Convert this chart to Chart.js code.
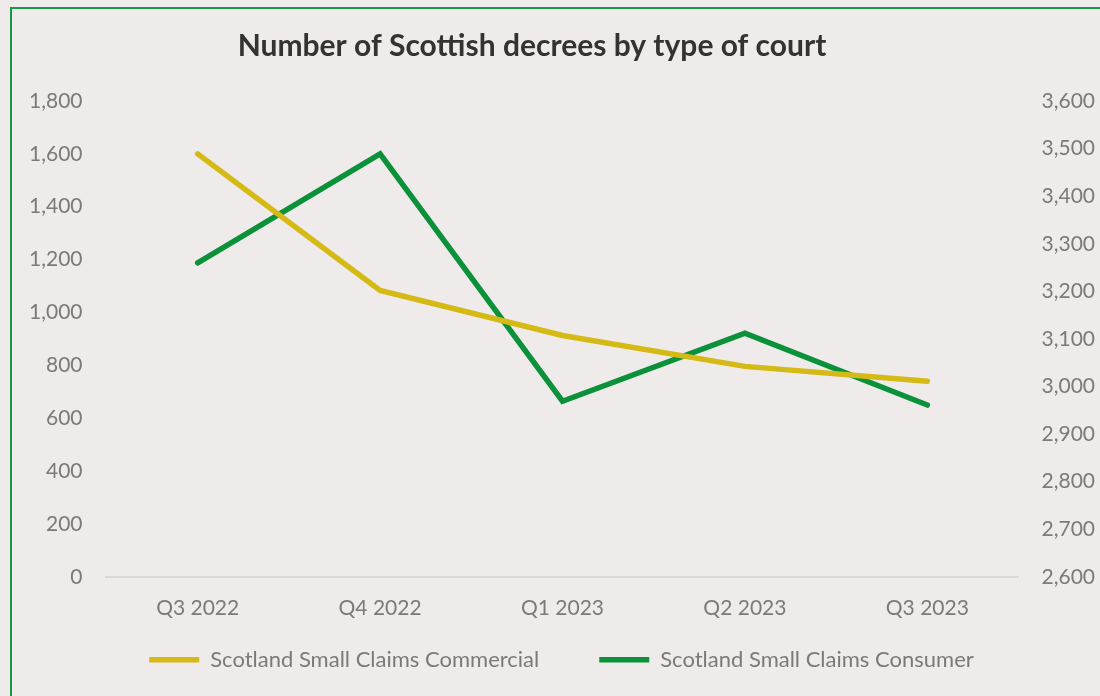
<!DOCTYPE html>
<html>
<head>
<meta charset="utf-8">
<script src="https://cdn.jsdelivr.net/npm/chart.js@4.4.0/dist/chart.umd.min.js"></script>
<style>
  html, body { margin: 0; padding: 0; background: #efebea; overflow: hidden; }
  #frame { position: absolute; left: 10px; top: 7px; width: 1200px; height: 800px; border: 2px solid #139a43; }
  #wrap { position: absolute; left: 0; top: 0; width: 1100px; height: 696px; }
</style>
</head>
<body>
<div id="frame"></div>
<div id="wrap"><canvas id="decreeChart" width="1100" height="696"></canvas></div>
<script>
const quarters = ["Q3 2022", "Q4 2022", "Q1 2023", "Q2 2023", "Q3 2023"];
const commercial = [1600, 1083, 913, 796, 740];
const consumer = [3260, 3489, 2969, 3112, 2961];
const leftTicks = [0, 200, 400, 600, 800, 1000, 1200, 1400, 1600, 1800];
const rightTicks = [2600, 2700, 2800, 2900, 3000, 3100, 3200, 3300, 3400, 3500, 3600];

const fontFamily = "Lato, 'Open Sans', sans-serif";
const grey = "#7a7a7a";

/* draws the title centred where the original sits */
const titlePlugin = {
    id: "titleText",
    afterDraw(chart) {
        let ctx = chart.ctx;
        ctx.save();
        ctx.font = "bold 30px " + fontFamily;
        ctx.fillStyle = "#333333";
        ctx.textAlign = "center";
        ctx.textBaseline = "middle";
        ctx.fillText("Number of Scottish decrees by type of court", 532, 46);
        ctx.restore();
    }
};

/* legend padding is wide (item gap), so pull the legend box up under the axis */
const legendNudge = {
    id: "legendNudge",
    afterLayout(chart) {
        let legend = chart.legend;
        let h = legend.bottom - legend.top;
        legend.top = chart.chartArea.bottom + 12;
        legend.bottom = legend.top + h;
    }
};

let ctx = document.getElementById("decreeChart").getContext("2d");
let chart = new Chart(ctx, {
    type: "line",
    data: {
        labels: quarters,
        datasets: [{
            label: "Scotland Small Claims Commercial",
            data: commercial,
            borderColor: "#d5b915",
            backgroundColor: "#d5b915",
            borderWidth: 5.5,
            pointRadius: 0,
            pointStyle: "line",
            borderCapStyle: "round",
            yAxisID: "y"
        }, {
            label: "Scotland Small Claims Consumer",
            data: consumer,
            borderColor: "#0b913a",
            backgroundColor: "#0b913a",
            borderWidth: 5.5,
            pointRadius: 0,
            pointStyle: "line",
            borderCapStyle: "round",
            yAxisID: "y1"
        }]
    },
    options: {
        responsive: false,
        animation: false,
        layout: { padding: { top: 101, left: 5, right: -18, bottom: -36 } },
        plugins: {
            title: { display: false },
            tooltip: { enabled: false },
            legend: {
                position: "bottom",
                labels: {
                    usePointStyle: true,
                    pointStyleWidth: 50,
                    padding: 60,
                    color: grey,
                    font: { family: fontFamily, size: 22 }
                }
            }
        },
        scales: {
            x: {
                offset: true,
                grid: { display: false, drawTicks: false },
                border: { display: true, color: "#d9d9d9", width: 2 },
                ticks: { color: grey, padding: 19, font: { family: fontFamily, size: 21 } }
            },
            y: {
                position: "left",
                min: 0,
                max: 1800,
                afterBuildTicks: axis => { axis.ticks = leftTicks.map(v => ({ value: v })); },
                grid: { display: false, drawTicks: false },
                border: { display: false },
                ticks: {
                    color: grey,
                    padding: 24,
                    font: { family: fontFamily, size: 21 },
                    callback: v => v.toLocaleString("en-US")
                }
            },
            y1: {
                position: "right",
                min: 2600,
                max: 3600,
                afterBuildTicks: axis => { axis.ticks = rightTicks.map(v => ({ value: v })); },
                grid: { display: false, drawTicks: false },
                border: { display: false },
                ticks: {
                    color: grey,
                    padding: 23,
                    font: { family: fontFamily, size: 21 },
                    callback: v => v.toLocaleString("en-US")
                }
            }
        }
    },
    plugins: [titlePlugin, legendNudge]
});
</script>
</body>
</html>
